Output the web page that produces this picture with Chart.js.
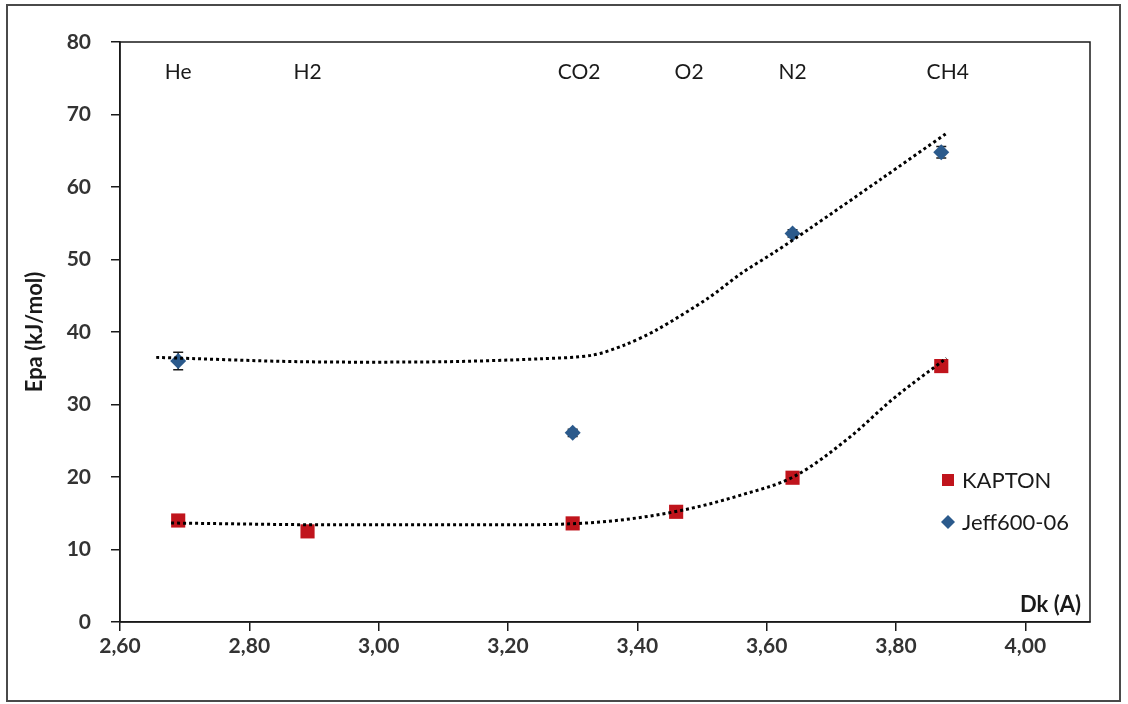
<!DOCTYPE html>
<html>
<head>
<meta charset="utf-8">
<script src="https://cdn.jsdelivr.net/npm/chart.js@4.4.1/dist/chart.umd.min.js"></script>
<style>
  html, body { margin: 0; padding: 0; background: #ffffff; }
  #wrap { width: 1128px; height: 704px; position: relative; }
</style>
</head>
<body>
<div id="wrap"><canvas id="c" width="1128" height="704"></canvas></div>
<script>
// ---- data ----
const gasNames = ['He', 'H2', 'CO2', 'O2', 'N2', 'CH4'];
const gasLabelX = [2.69, 2.89, 3.31, 3.48, 3.64, 3.88];

const kaptonX = [2.69, 2.89, 3.30, 3.46, 3.64, 3.87];
const kaptonY = [14.0, 12.5, 13.6, 15.2, 19.9, 35.3];
const kaptonErr = [0.4, 0.6, 0.4, 0.5, 0.4, 0.8];

const jeffX = [2.69, 3.30, 3.64, 3.87];
const jeffY = [36.0, 26.1, 53.6, 64.8];
const jeffErr = [1.2, 0.5, 0.5, 0.8];

const jeffTrendX = [2.656, 2.88, 3.10, 3.25, 3.33, 3.38, 3.43, 3.51, 3.561, 3.612, 3.664, 3.777, 3.878];
const jeffTrendY = [36.5, 35.9, 35.9, 36.3, 36.8, 38.2, 40.3, 44.7, 48.1, 51.0, 54.1, 61.1, 67.4];

const kapTrendX = [2.679, 2.94, 3.19, 3.344, 3.463, 3.56, 3.643, 3.73, 3.793, 3.878];
const kapTrendY = [13.65, 13.4, 13.4, 13.8, 15.3, 17.5, 20.1, 25.6, 30.6, 36.4];

const xTicks = [2.6, 2.8, 3.0, 3.2, 3.4, 3.6, 3.8, 4.0];
const yTicks = [0, 10, 20, 30, 40, 50, 60, 70, 80];

const seriesNames = ['KAPTON', 'Jeff600-06'];
const xTitle = 'Dk (A)';
const yTitle = 'Epa (kJ/mol)';

const RED = '#c0141c';
const BLUE = '#2b5a8c';
const FONT = 'Lato, "Open Sans", sans-serif';

const pts = (xs, ys) => xs.map((x, i) => ({ x: x, y: ys[i] }));

const decorPlugin = {
  id: 'decor',
  beforeDraw(chart) {
    const ctx = chart.ctx;
    ctx.save();
    ctx.fillStyle = '#ffffff';
    ctx.fillRect(0, 0, chart.width, chart.height);
    ctx.strokeStyle = '#4a4a4a';
    ctx.lineWidth = 2;
    ctx.strokeRect(7, 5, 1113, 696);
    ctx.restore();
  },
  beforeDatasetsDraw(chart) {
    const ctx = chart.ctx;
    const xs = chart.scales.x, ys = chart.scales.y;
    ctx.save();
    ctx.strokeStyle = '#1a1a1a';
    ctx.lineWidth = 1.5;
    const drawErr = (X, Y, E) => {
      X.forEach((x, i) => {
        const px = xs.getPixelForValue(x);
        const top = ys.getPixelForValue(Y[i] + E[i]);
        const bot = ys.getPixelForValue(Y[i] - E[i]);
        ctx.beginPath();
        ctx.moveTo(px, top); ctx.lineTo(px, bot);
        ctx.moveTo(px - 5, top); ctx.lineTo(px + 5, top);
        ctx.moveTo(px - 5, bot); ctx.lineTo(px + 5, bot);
        ctx.stroke();
      });
    };
    drawErr(kaptonX, kaptonY, kaptonErr);
    drawErr(jeffX, jeffY, jeffErr);
    ctx.restore();
  },
  afterDraw(chart) {
    const ctx = chart.ctx;
    const a = chart.chartArea;
    const xs = chart.scales.x, ys = chart.scales.y;
    ctx.save();
    // plot box
    ctx.strokeStyle = '#1a1a1a';
    ctx.lineWidth = 1.5;
    ctx.strokeRect(a.left, a.top, a.right - a.left, a.bottom - a.top);
    // gas labels
    ctx.fillStyle = '#1a1a1a';
    ctx.font = '21px ' + FONT;
    ctx.textAlign = 'center';
    ctx.textBaseline = 'middle';
    gasNames.forEach((n, i) => {
      ctx.fillText(n, xs.getPixelForValue(gasLabelX[i]), ys.getPixelForValue(75.8));
    });
    // x title inside bottom-right
    ctx.font = 'bold 22px ' + FONT;
    ctx.textAlign = 'right';
    ctx.fillText(xTitle, a.right - 9, a.bottom - 17);
    // legend
    const lx = 948;
    const ly1 = 480, ly2 = 522;
    ctx.fillStyle = RED;
    ctx.fillRect(lx - 6, ly1 - 6, 12, 12);
    ctx.fillStyle = BLUE;
    ctx.beginPath();
    ctx.moveTo(lx, ly2 - 7); ctx.lineTo(lx + 7, ly2); ctx.lineTo(lx, ly2 + 7); ctx.lineTo(lx - 7, ly2);
    ctx.closePath(); ctx.fill();
    ctx.fillStyle = '#1a1a1a';
    ctx.font = '22px ' + FONT;
    ctx.textAlign = 'left';
    ctx.fillText(seriesNames[0], lx + 14, ly1 + 1);
    ctx.fillText(seriesNames[1], lx + 14, ly2 + 1);
    ctx.restore();
  }
};

new Chart(document.getElementById('c'), {
  type: 'scatter',
  data: {
    datasets: [
      {
        label: 'trendJeff',
        data: pts(jeffTrendX, jeffTrendY),
        showLine: true,
        borderColor: '#000000',
        borderWidth: 3,
        borderDash: [3, 3],
        borderCapStyle: 'butt',
        pointRadius: 0,
        tension: 0.3,
        order: 0
      },
      {
        label: 'trendKapton',
        data: pts(kapTrendX, kapTrendY),
        showLine: true,
        borderColor: '#000000',
        borderWidth: 3,
        borderDash: [3, 3],
        borderCapStyle: 'butt',
        pointRadius: 0,
        cubicInterpolationMode: 'monotone',
        order: 0
      },
      {
        label: seriesNames[0],
        data: pts(kaptonX, kaptonY),
        pointStyle: 'rect',
        pointRadius: 10,
        pointBackgroundColor: RED,
        pointBorderColor: RED,
        pointBorderWidth: 0,
        order: 1
      },
      {
        label: seriesNames[1],
        data: pts(jeffX, jeffY),
        pointStyle: 'rectRot',
        pointRadius: 8,
        pointBackgroundColor: BLUE,
        pointBorderColor: BLUE,
        pointBorderWidth: 0,
        order: 1
      }
    ]
  },
  options: {
    responsive: false,
    animation: false,
    devicePixelRatio: 1,
    layout: { padding: { left: 22, top: 42, right: 38, bottom: 0 } },
    plugins: { legend: { display: false }, tooltip: { enabled: false } },
    scales: {
      x: {
        type: 'linear',
        min: 2.6,
        max: 4.1,
        afterBuildTicks(scale) { scale.ticks = xTicks.map(v => ({ value: v })); },
        afterFit(scale) { scale.height = 82; },
        grid: { drawOnChartArea: false, drawTicks: true, tickLength: 9, color: '#1a1a1a', lineWidth: 1.5 },
        border: { display: true, color: '#1a1a1a', width: 1.5 },
        ticks: {
          padding: 3,
          color: '#333333',
          font: { family: FONT, size: 21, weight: 'bold' },
          maxRotation: 0,
          callback: v => Number(v).toFixed(2).replace('.', ',')
        }
      },
      y: {
        type: 'linear',
        min: 0,
        max: 80,
        afterBuildTicks(scale) { scale.ticks = yTicks.map(v => ({ value: v })); },
        afterFit(scale) { scale.width = 98; },
        grid: { drawOnChartArea: false, drawTicks: true, tickLength: 9, color: '#1a1a1a', lineWidth: 1.5 },
        border: { display: true, color: '#1a1a1a', width: 1.5 },
        title: {
          display: true,
          text: yTitle,
          color: '#1a1a1a',
          font: { family: FONT, size: 22, weight: 'bold' },
          padding: { top: 0, bottom: 4 }
        },
        ticks: {
          padding: 20,
          color: '#333333',
          font: { family: FONT, size: 21, weight: 'bold' }
        }
      }
    }
  },
  plugins: [decorPlugin]
});
</script>
</body>
</html>
